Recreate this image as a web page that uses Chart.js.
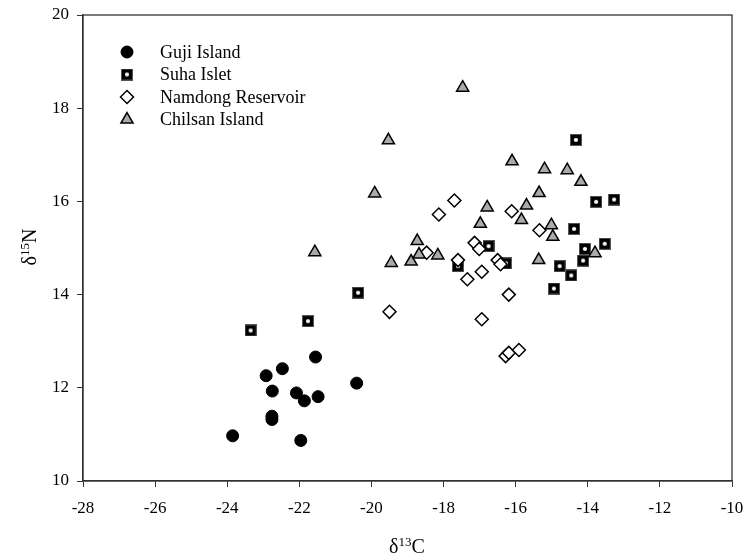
<!DOCTYPE html>
<html>
<head>
<meta charset="utf-8">
<script src="https://cdn.jsdelivr.net/npm/chart.js@4.4.1/dist/chart.umd.min.js"></script>
<style>
html,body{margin:0;padding:0;background:#fff;}
#wrap{width:744px;height:559px;position:relative;}
</style>
</head>
<body>
<div id="wrap"><canvas id="c" width="744" height="559"></canvas></div>
<script>
// ---- data ----
const seriesNames = ["Guji Island", "Suha Islet", "Namdong Reservoir", "Chilsan Island"];

const gujiX = [-23.85,-22.92,-22.75,-22.76,-22.76,-22.47,-22.08,-21.96,-21.86,-21.55,-21.48,-20.41];
const gujiY = [10.97,12.26,11.93,11.39,11.32,12.41,11.89,10.87,11.72,12.66,11.81,12.10];

const suhaX = [-23.35,-21.76,-20.37,-17.60,-16.75,-16.27,-14.94,-14.78,-14.46,-14.33,-14.38,-14.08,-14.13,-13.77,-13.53,-13.27];
const suhaY = [13.23,13.43,14.04,14.61,15.04,14.67,14.13,14.61,14.41,17.32,15.41,14.98,14.73,15.99,15.09,16.04];

const namdongX = [-19.50,-18.47,-18.13,-17.70,-17.60,-17.34,-17.14,-17.01,-16.94,-16.94,-16.50,-16.42,-16.28,-16.19,-16.19,-16.11,-15.91,-15.34];
const namdongY = [13.63,14.90,15.72,16.02,14.74,14.33,15.11,14.98,14.49,13.47,14.74,14.65,12.68,14.00,12.75,15.79,12.81,15.38];

const chilsanX = [-21.57,-19.91,-19.53,-19.45,-18.90,-18.73,-18.68,-18.16,-17.47,-16.98,-16.79,-16.10,-15.84,-15.70,-15.36,-15.35,-15.20,-15.01,-14.97,-14.57,-14.19,-13.80];
const chilsanY = [14.91,16.17,17.31,14.68,14.71,15.15,14.86,14.84,18.44,15.52,15.87,16.86,15.60,15.91,14.74,16.18,16.69,15.49,15.24,16.67,16.42,14.89];

const xTicks = [-28,-26,-24,-22,-20,-18,-16,-14,-12,-10];
const yTicks = [10,12,14,16,18,20];

// ---- helpers ----
function pts(xs, ys){ return xs.map((x,i)=>({x:x, y:ys[i]})); }

function makeSuhaMarker(){
  const c = document.createElement('canvas');
  c.width = 12; c.height = 12;
  const g = c.getContext('2d');
  g.fillStyle = '#555';
  g.fillRect(0,0,12,12);
  g.fillStyle = '#000';
  g.fillRect(1,1,10,10);
  g.fillStyle = '#fff';
  g.beginPath(); g.arc(6,6,2.1,0,Math.PI*2); g.fill();
  return c;
}
const suhaMarker = makeSuhaMarker();

const FONT = "'Liberation Serif','Times New Roman',serif";

const datasets = [
  {label: seriesNames[0], data: pts(gujiX,gujiY), pointStyle:'circle', pointRadius:6, backgroundColor:'#000', borderColor:'#000', borderWidth:1, order:3},
  {label: seriesNames[1], data: pts(suhaX,suhaY), pointStyle:suhaMarker, pointRadius:6, backgroundColor:'#000', borderColor:'#000', order:2},
  {label: seriesNames[2], data: pts(namdongX,namdongY), pointStyle:'rectRot', pointRadius:6.5, backgroundColor:'#fff', borderColor:'#000', borderWidth:1.5, order:1},
  {label: seriesNames[3], data: pts(chilsanX,chilsanY), pointStyle:'triangle', pointRadius:7, backgroundColor:'#aaaaaa', borderColor:'#000', borderWidth:1.5, order:0}
];

function drawSupText(ctx, parts, cx, cy){
  let total = 0;
  parts.forEach(p=>{ ctx.font = p[1]+'px '+FONT; p.w = ctx.measureText(p[0]).width; total += p.w; });
  let x = cx - total/2;
  ctx.textBaseline = 'alphabetic';
  ctx.textAlign = 'left';
  parts.forEach(p=>{ ctx.font = p[1]+'px '+FONT; ctx.fillText(p[0], x, cy - p[2]); x += p.w; });
}

const decorPlugin = {
  id:'decor',
  afterDraw(chart){
    const ctx = chart.ctx, a = chart.chartArea;
    ctx.save();
    // frame
    ctx.strokeStyle = '#333';
    ctx.lineWidth = 1.3;
    ctx.strokeRect(a.left, a.top, a.right-a.left, a.bottom-a.top);
    // legend markers
    const lx = 127, tx = 160, ys = [52, 74.5, 97, 119.5];
    chart.data.datasets.forEach((ds,i)=>{
      ctx.save();
      ctx.fillStyle = ds.backgroundColor;
      ctx.strokeStyle = ds.borderColor;
      ctx.lineWidth = ds.borderWidth||1;
      Chart.helpers.drawPoint(ctx, {pointStyle: ds.pointStyle, radius: ds.pointRadius, borderWidth: ds.borderWidth||1, rotation:0}, lx, ys[i]);
      ctx.restore();
    });
    // legend text
    ctx.fillStyle = '#000';
    ctx.font = '18px '+FONT;
    ctx.textAlign = 'left';
    ctx.textBaseline = 'middle';
    seriesNames.forEach((n,i)=>ctx.fillText(n, tx, ys[i]+1));
    // axis titles
    drawSupText(ctx, [['δ',20,0],['13',13,7],['C',20,0]], 407, 553);
    ctx.save();
    ctx.translate(29, 247);
    ctx.rotate(-Math.PI/2);
    drawSupText(ctx, [['δ',20,0],['15',13,7],['N',20,0]], 0, 7);
    ctx.restore();
    ctx.restore();
  }
};

const chart = new Chart(document.getElementById('c'), {
  type:'scatter',
  data:{datasets: datasets},
  options:{
    responsive:false,
    animation:false,
    events:[],
    layout:{padding:{left:0, top:15, right:12, bottom:0}},
    plugins:{legend:{display:false}, tooltip:{enabled:false}},
    scales:{
      x:{
        type:'linear', min:-28, max:-10,
        afterBuildTicks(s){ s.ticks = xTicks.map(v=>({value:v})); },
        afterFit(s){ s.height = 78; s.paddingLeft = 0; s.paddingRight = 0; },
        grid:{drawOnChartArea:false, drawTicks:true, tickLength:6, color:'#333', lineWidth:1},
        border:{display:true, color:'#333', width:1.3},
        ticks:{color:'#000', padding:11, font:{family:FONT, size:17}, maxRotation:0, autoSkip:false}
      },
      y:{
        type:'linear', min:10, max:20,
        afterBuildTicks(s){ s.ticks = yTicks.map(v=>({value:v})); },
        afterFit(s){ s.width = 83; s.paddingTop = 0; s.paddingBottom = 0; },
        grid:{drawOnChartArea:false, drawTicks:true, tickLength:6, color:'#333', lineWidth:1},
        border:{display:true, color:'#333', width:1.3},
        ticks:{color:'#000', padding:8, font:{family:FONT, size:17}, autoSkip:false}
      }
    }
  },
  plugins:[decorPlugin]
});
</script>
</body>
</html>
